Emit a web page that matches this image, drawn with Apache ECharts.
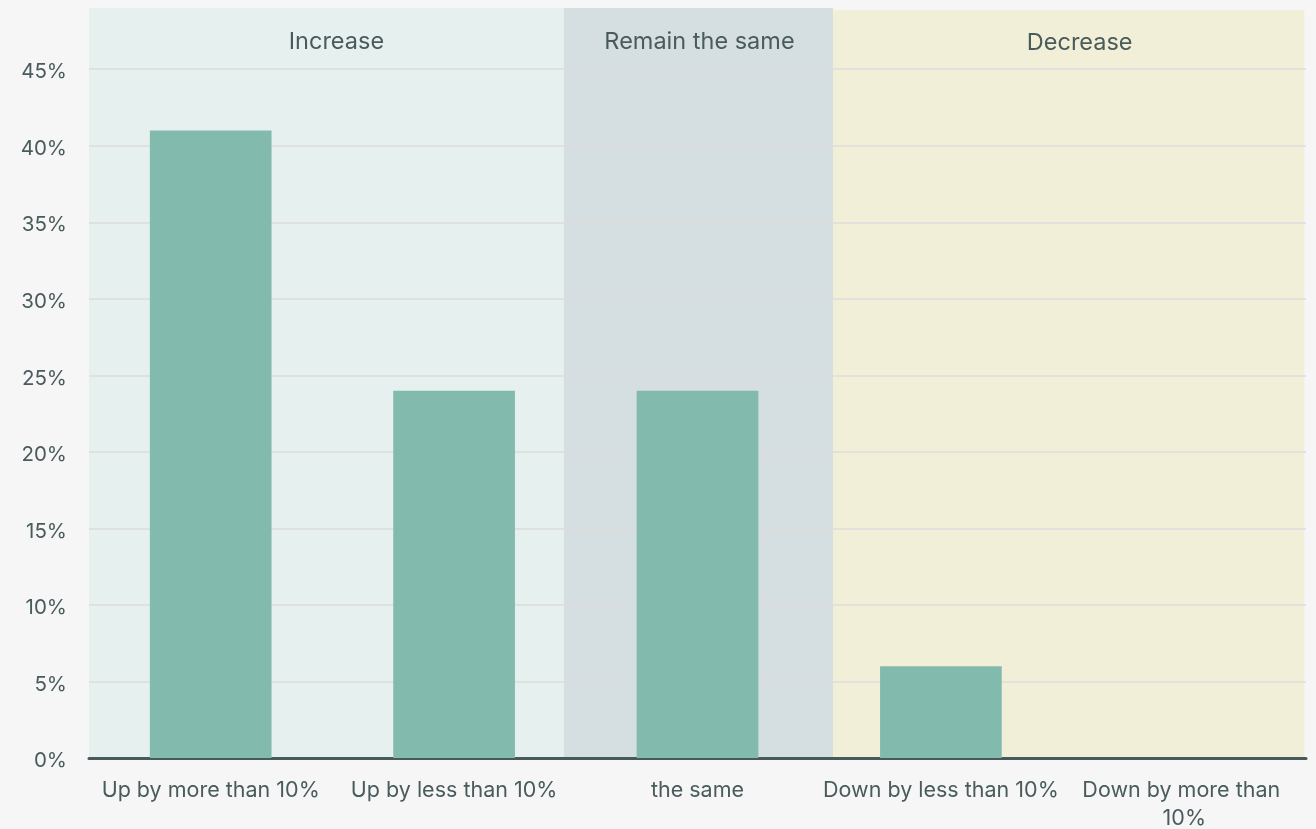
<!DOCTYPE html>
<html>
<head>
<meta charset="utf-8">
<title>Expected change</title>
<script src="https://cdn.jsdelivr.net/npm/echarts@6/dist/echarts.min.js"></script>
<style>
  html, body { margin: 0; padding: 0; background: #f6f6f6; }
  #chart { width: 1316px; height: 829px; }
</style>
</head>
<body>
<div id="chart"></div>
<script>
// Response categories and share of respondents (%)
const categories = [
  'Up by more than 10%',
  'Up by less than 10%',
  'the same',
  'Down by less than 10%',
  'Down by more than 10%'
];
const shares = [41, 24, 24, 6, 0];

// Grouping bands along the category axis (0..5 scale), label and top edge (%)
const bandNames = ['Increase', 'Remain the same', 'Decrease'];
const bandStart = [0, 1.951, 3.057];
const bandEnd = [1.951, 3.057, 4.993];
const bandTop = [49, 49, 48.86];

const yTicks = [0, 5, 10, 15, 20, 25, 30, 35, 40, 45];

const FONT = 'Inter, "Noto Sans", sans-serif';
const TEXT = '#4a5b5c';
const bandColors = ['#e6f0ee', '#d5dee0', '#f1efd7'];
const labelOffsets = [[10, 0], [1, 0], [11, -1]];

const chart = echarts.init(document.getElementById('chart'), null, { renderer: 'canvas' });

chart.setOption({
  backgroundColor: '#f6f6f6',
  animation: false,
  grid: {
    left: 89, right: 10, top: 8, bottom: 71,
    containLabel: false,
    outerBoundsMode: 'none'
  },
  xAxis: [
    {
      type: 'category',
      data: categories,
      z: 6,
      axisLine: { show: true, lineStyle: { color: '#47595b', width: 3 } },
      axisTick: { show: false },
      splitLine: { show: false },
      axisLabel: {
        color: TEXT,
        fontFamily: FONT,
        fontSize: 21.5,
        margin: 19,
        width: 240,
        overflow: 'break',
        lineHeight: 28,
        interval: 0
      }
    },
    {
      type: 'value',
      min: 0,
      max: 5,
      show: false
    }
  ],
  yAxis: {
    type: 'value',
    min: 0,
    max: 49,
    interval: 5,
    z: 3,
    axisLine: { show: false },
    axisTick: { show: false },
    splitLine: {
      show: true,
      showMaxLine: false,
      lineStyle: { color: '#dcdcdc', width: 1.5 }
    },
    axisLabel: {
      color: TEXT,
      fontFamily: FONT,
      fontSize: 20.5,
      margin: 22,
      showMaxLabel: false,
      formatter: v => (yTicks.indexOf(v) >= 0 ? '{t|' + v + '%}' : ''),
      rich: {
        t: {
          color: TEXT,
          fontFamily: FONT,
          fontSize: 20.5,
          padding: [6, 0, 0, 0]
        }
      }
    }
  },
  series: [
    {
      // carrier for the grouping bands
      type: 'scatter',
      xAxisIndex: 1,
      data: [],
      silent: true,
      z: 1,
      markArea: {
        silent: true,
        z: 1,
        data: bandNames.map((name, i) => [
          {
            name: name,
            xAxis: bandStart[i],
            yAxis: 0,
            itemStyle: { color: bandColors[i] },
            label: {
              show: true,
              position: 'insideTop',
              distance: 22,
              offset: labelOffsets[i],
              color: TEXT,
              fontFamily: FONT,
              fontSize: 23.5
            }
          },
          { xAxis: bandEnd[i], yAxis: bandTop[i] }
        ])
      }
    },
    {
      type: 'bar',
      data: shares,
      barWidth: '50%',
      z: 8,
      itemStyle: { color: '#82bbad' }
    }
  ]
});
</script>
</body>
</html>
